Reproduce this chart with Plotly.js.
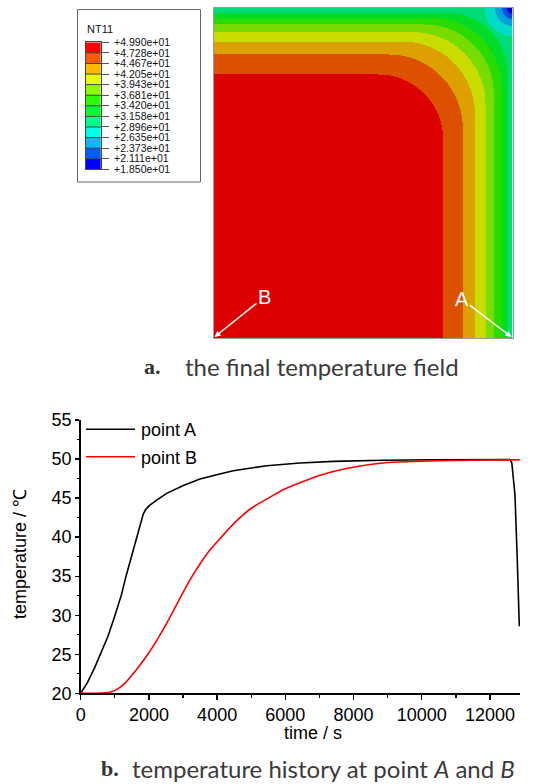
<!DOCTYPE html>
<html>
<head>
<meta charset="utf-8">
<script src="https://cdn.plot.ly/plotly-3.0.1.min.js"></script>
<style>html,body{margin:0;padding:0;background:#fff;}#chart{width:535px;height:784px;}</style>
</head>
<body>
<div id="chart"></div>
<script>
// ---------- data: final temperature field (legend of NT11) ----------
const legendLevels = [18.50, 21.11, 23.73, 26.35, 28.96, 31.58, 34.20, 36.81, 39.43, 42.05, 44.67, 47.28, 49.90];
const legendLabels = ['+1.850e+01','+2.111e+01','+2.373e+01','+2.635e+01','+2.896e+01','+3.158e+01','+3.420e+01',
                      '+3.681e+01','+3.943e+01','+4.205e+01','+4.467e+01','+4.728e+01','+4.990e+01'];
const legendColors = ['#0000FF','#005DFF','#00B9FF','#00FFE8','#00FF8B','#00FF2E','#2EFF00','#8BFF00','#E8FF00','#FFB900','#FF5D00','#FF0000'];
const fieldColors  = ['#0000DC','#0050DC','#00A0DC','#00DCC8','#00DC78','#00DC28','#28DC00','#78DC00','#C8DC00','#DCA000','#DC5000','#DC0000'];
const fieldTitle = 'NT11';
// field size (image px) and band boundaries (warmest boundary first)
const fieldWidth = 299, fieldHeight = 330;
const boundaryTop    = [66.5, 46.5, 33.7, 24.3, 16.5, 9.8, 4.7];   // distance from top edge
const boundaryRight  = [69.8, 50.2, 38.2, 27.5, 19.2, 11.5, 5.2];  // distance from right edge
const boundaryRadius = [65, 74, 72, 72, 69, 69, 61];               // rounding at the corner
const cornerDiskRadius = [28, 18, 11, 6];                          // cold bands around the top-right corner
const pointLabels = ['A', 'B'];

// ---------- data: temperature history ----------
const timeA = [0,200,400,567,800,1007,1200,1329,1500,1642,1760,1830,1900,2000,2228,2521,3010,3498,3987,4475,5453,6430,7407,8873,10339,12586,12640,12733,12801,12860];
const tempA = [20,21.4,23.2,24.9,27.3,30,32.7,35,37.7,40,41.9,42.9,43.5,44.0,44.75,45.6,46.6,47.45,48.0,48.5,49.15,49.5,49.7,49.85,49.9,49.95,49.5,45.4,36.9,28.6];
const timeB = [0,400,700,900,1100,1300,1500,1700,2000,2300,2600,2900,3200,3500,3800,4000,4500,5000,5500,6000,6500,7000,7500,8000,9000,10000,11000,12000,12880];
const tempB = [20,20,20.05,20.2,20.6,21.3,22.3,23.4,25.2,27.3,29.6,32.1,34.5,36.6,38.4,39.4,41.8,43.7,45.0,46.2,47.1,47.9,48.5,48.95,49.55,49.72,49.82,49.87,49.9];
const seriesNames = ['point A', 'point B'];
const seriesColors = ['#000000', '#FF0000'];

// ---------- helpers ----------
const W = 535, H = 784;
const px = v => v / W;
const py = v => 1 - v / H;
const sans = 'Liberation Sans, Arial, sans-serif';

function discreteScale(colors) {
  const n = colors.length, s = [];
  colors.forEach((c, i) => { s.push([i / n, c]); s.push([(i + 1) / n, c]); });
  return s;
}
function warmRounded(dx, dy, t, r, rho) {
  if (dx < r || dy < t) return false;
  const cx = r + rho, cy = t + rho;
  if (dx < cx && dy < cy) return (cx - dx) * (cx - dx) + (cy - dy) * (cy - dy) <= rho * rho;
  return true;
}
function bandAt(dx, dy) {
  const nb = legendLevels.length - 1; // 12 bands
  for (let j = 0; j < boundaryTop.length; j++)
    if (warmRounded(dx, dy, boundaryTop[j], boundaryRight[j], boundaryRadius[j])) return nb - j;
  for (let k = 0; k < cornerDiskRadius.length; k++)
    if (dx * dx + dy * dy >= cornerDiskRadius[k] * cornerDiskRadius[k]) return nb - boundaryTop.length - k;
  return 1;
}
const mid = b => (legendLevels[b - 1] + legendLevels[b]) / 2;

const fx = [], fy = [], fz = [];
for (let i = 0; i < fieldWidth; i++) fx.push(i + 0.5);
for (let j = 0; j < fieldHeight; j++) {
  fy.push(j + 0.5);
  const row = [];
  const dy = fieldHeight - (j + 0.5);
  for (let i = 0; i < fieldWidth; i++) row.push(mid(bandAt(fieldWidth - (i + 0.5), dy)));
  fz.push(row);
}
const swatchY = [], swatchZ = [];
for (let b = 1; b < legendLevels.length; b++) { swatchY.push(b - 0.5); swatchZ.push([mid(b)]); }

const zmin = legendLevels[0], zmax = legendLevels[legendLevels.length - 1];
const traces = [
  {type:'heatmap', x:fx, y:fy, z:fz, xaxis:'x', yaxis:'y', zmin, zmax, colorscale:discreteScale(fieldColors),
   showscale:false, zsmooth:false, hoverinfo:'skip'},
  {type:'heatmap', x:[0.5], y:swatchY, z:swatchZ, xaxis:'x3', yaxis:'y3', zmin, zmax,
   colorscale:discreteScale(legendColors), showscale:false, hoverinfo:'skip'},
  {type:'scatter', mode:'lines', x:timeA, y:tempA, name:seriesNames[0], xaxis:'x2', yaxis:'y2',
   line:{color:seriesColors[0], width:1.6}},
  {type:'scatter', mode:'lines', x:timeB, y:tempB, name:seriesNames[1], xaxis:'x2', yaxis:'y2',
   line:{color:seriesColors[1], width:1.6, shape:'spline', smoothing:0.5}}
];

const shapes = [
  {type:'rect', xref:'paper', yref:'paper', x0:px(77.5), x1:px(200.5), y0:py(182), y1:py(9.5),
   line:{color:'#666', width:1}, fillcolor:'rgba(0,0,0,0)'}
];
for (let k = 1; k < legendLevels.length - 1; k++)
  shapes.push({type:'line', xref:'x3', yref:'y3', x0:0, x1:1, y0:k, y1:k, line:{color:'#444', width:1}});
// legend line samples for the history chart
[429.3, 456.8].forEach((yy, i) => shapes.push({type:'line', xref:'paper', yref:'paper',
  x0:px(86), x1:px(135), y0:py(yy), y1:py(yy), line:{color:seriesColors[i], width:1.6}}));

const annotations = [
  {xref:'paper', yref:'paper', x:px(85), y:py(29.5), text:fieldTitle, showarrow:false, xanchor:'left', yanchor:'middle',
   font:{family:sans, size:11, color:'#111'}},
  // point labels with arrows
  {xref:'x', yref:'y', x:fieldWidth - 1, y:1, text:pointLabels[0], showarrow:true, ax:-50, ay:-38, axref:'pixel', ayref:'pixel',
   arrowcolor:'#fff', arrowwidth:1.5, arrowhead:2, arrowsize:0.8, standoff:0,
   font:{family:sans, size:20, color:'#fff'}},
  {xref:'x', yref:'y', x:1, y:1, text:pointLabels[1], showarrow:true, ax:50, ay:-40, axref:'pixel', ayref:'pixel',
   arrowcolor:'#fff', arrowwidth:1.5, arrowhead:2, arrowsize:0.8, standoff:0,
   font:{family:sans, size:20, color:'#fff'}},
  // caption a
  {xref:'paper', yref:'paper', x:px(142), y:py(366), text:'<b>a.</b>', showarrow:false, xanchor:'left', yanchor:'middle',
   font:{family:'Liberation Serif, Times New Roman, serif', size:22, color:'#333'}},
  {xref:'paper', yref:'paper', x:px(183), y:py(366), text:'the final temperature field', showarrow:false, xanchor:'left', yanchor:'middle',
   font:{family:'Lato, Open Sans, sans-serif', size:24, color:'#3a3a3a'}},
  // caption b
  {xref:'paper', yref:'paper', x:px(99), y:py(768), text:'<b>b.</b>', showarrow:false, xanchor:'left', yanchor:'middle',
   font:{family:'Liberation Serif, Times New Roman, serif', size:22, color:'#333'}},
  {xref:'paper', yref:'paper', x:px(130), y:py(768), text:'temperature history at point <i>A</i> and <i>B</i>', showarrow:false,
   xanchor:'left', yanchor:'middle', font:{family:'Lato, Open Sans, sans-serif', size:24, color:'#3a3a3a'}},
  // axis titles
  {xref:'paper', yref:'paper', x:px(20), y:py(554), text:'temperature / ℃', showarrow:false, textangle:-90,
   xanchor:'center', yanchor:'middle', font:{family:sans, size:18, color:'#000'}},
  {xref:'paper', yref:'paper', x:px(313), y:py(733), text:'time / s', showarrow:false,
   xanchor:'center', yanchor:'middle', font:{family:sans, size:18, color:'#000'}}
];
[430, 457.5].forEach((yy, i) => annotations.push({xref:'paper', yref:'paper', x:px(139), y:py(yy), text:seriesNames[i],
  showarrow:false, xanchor:'left', yanchor:'middle', font:{family:sans, size:18, color:'#000'}}));

const hidden = {showgrid:false, zeroline:false, showticklabels:false, ticks:'', fixedrange:true};
const layout = {
  width:W, height:H, margin:{l:0, r:0, t:0, b:0}, paper_bgcolor:'#fff', plot_bgcolor:'rgba(0,0,0,0)', showlegend:false,
  xaxis: Object.assign({domain:[px(213.5), px(512.5)], range:[0, fieldWidth], anchor:'y', showline:true, mirror:true,
    linecolor:'#9a9a9a', linewidth:1}, hidden),
  yaxis: Object.assign({domain:[py(338), py(7.5)], range:[0, fieldHeight], anchor:'x', showline:true, mirror:true,
    linecolor:'#9a9a9a', linewidth:1}, hidden),
  xaxis3: Object.assign({domain:[px(85.7), px(101)], range:[0, 1], anchor:'y3', showline:true, mirror:true,
    linecolor:'#444', linewidth:1}, hidden),
  yaxis3: {domain:[py(169.3), py(42.3)], range:[0, legendLevels.length - 1], anchor:'x3', side:'right',
    tickmode:'array', tickvals:legendLevels.map((v, i) => i), ticktext:legendLabels,
    ticks:'outside', ticklen:7, tickwidth:1, tickcolor:'#555', ticklabelstandoff:3,
    showline:true, mirror:true, linecolor:'#444', linewidth:1, showgrid:false, zeroline:false, fixedrange:true,
    tickfont:{family:sans, size:10.5, color:'#111'}},
  xaxis2: {domain:[px(80.7), px(520)], range:[0, 12880], anchor:'y2', tick0:0, dtick:2000, tickformat:'d',
    ticks:'outside', ticklen:5, tickwidth:1.3, tickcolor:'#000', showline:true, linecolor:'#000', linewidth:1.5,
    showgrid:false, zeroline:false, fixedrange:true, tickfont:{family:sans, size:18, color:'#000'},
    minor:{dtick:1000, ticks:'outside', ticklen:3, tickwidth:1.3, tickcolor:'#000', showgrid:false}},
  yaxis2: {domain:[py(693.3), py(420)], range:[20, 55], anchor:'x2', tick0:20, dtick:5,
    ticks:'outside', ticklen:4, tickwidth:1.3, tickcolor:'#000', showline:true, linecolor:'#000', linewidth:1.5,
    showgrid:false, zeroline:false, fixedrange:true, tickfont:{family:sans, size:18, color:'#000'},
    minor:{dtick:2.5, ticks:'outside', ticklen:2.5, tickwidth:1.3, tickcolor:'#000', showgrid:false}},
  shapes, annotations
};
Plotly.newPlot('chart', traces, layout, {staticPlot:true, displayModeBar:false});
</script>
</body>
</html>
